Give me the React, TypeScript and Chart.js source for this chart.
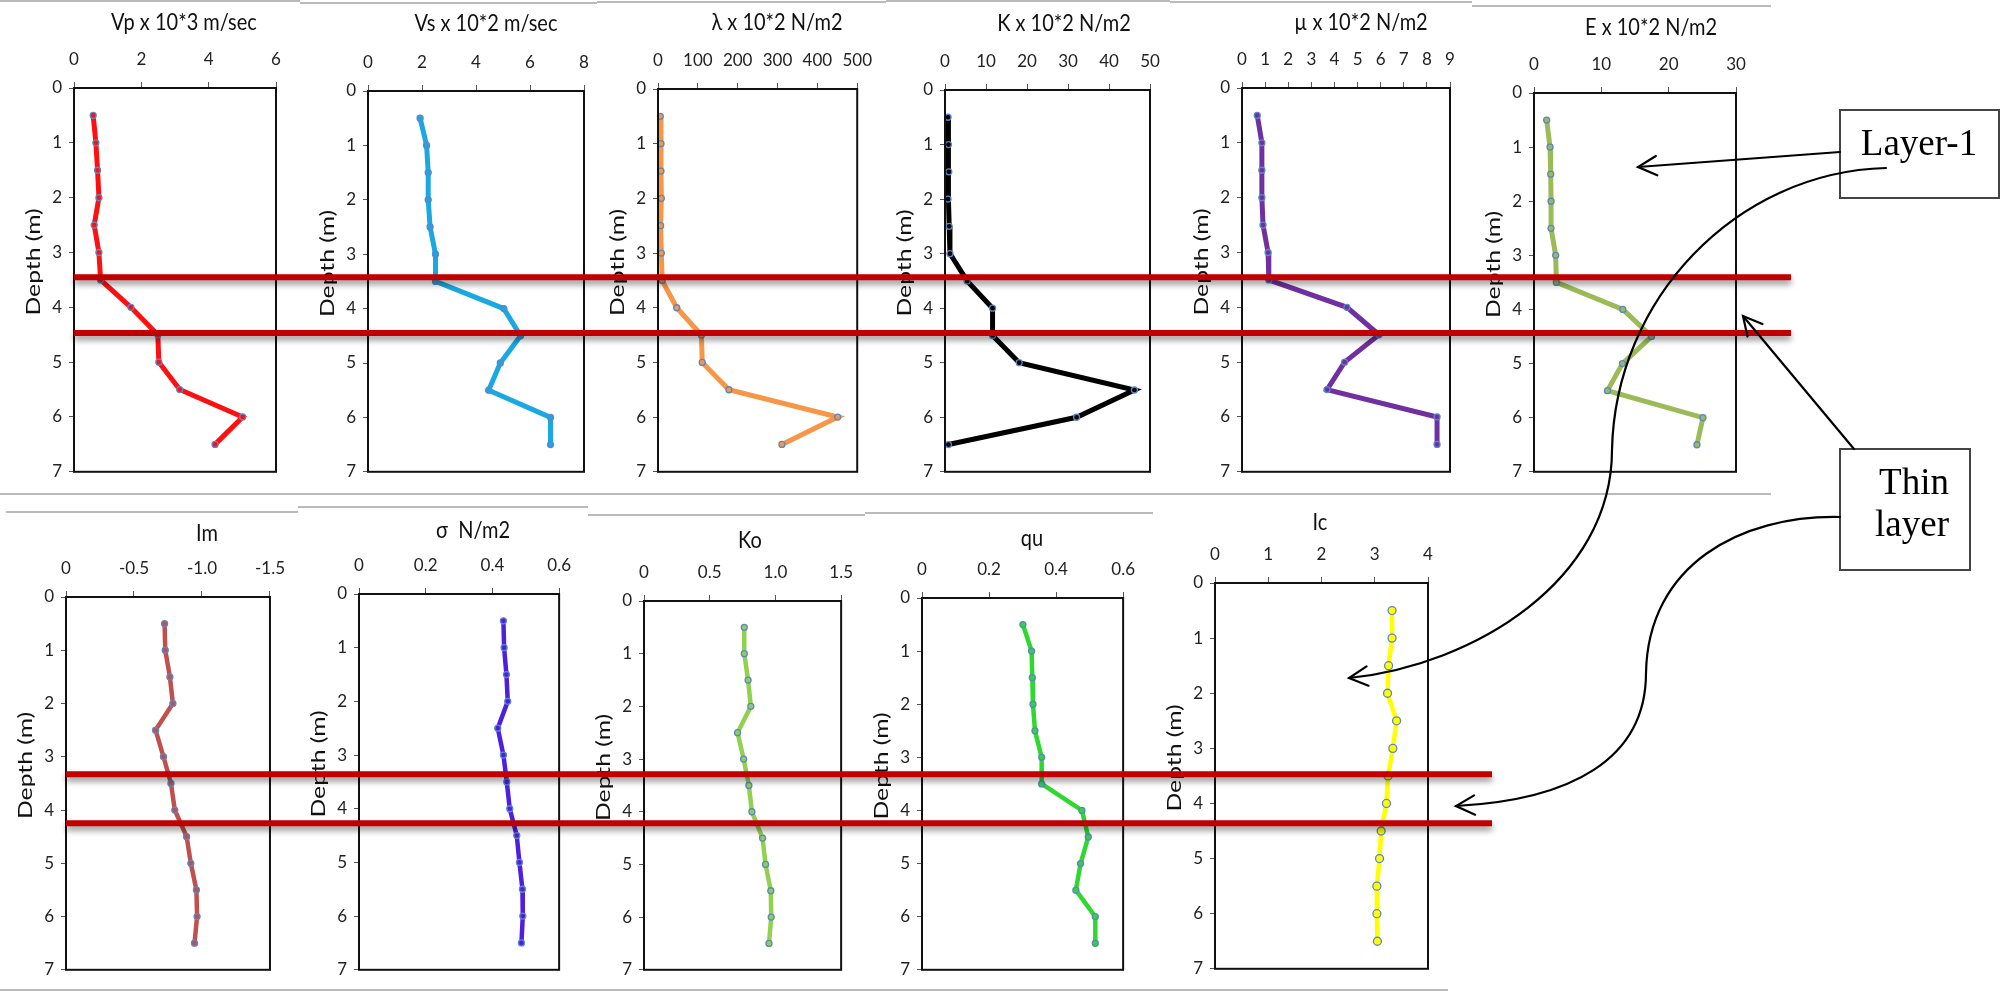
import React, { useEffect, useRef } from "react";
import { Chart, registerables } from "chart.js";
Chart.register(...registerables);

// ---------- data ----------
const depth = [0.5, 1, 1.5, 2, 2.5, 3, 3.5, 4, 4.5, 5, 5.5, 6, 6.5];
const vp = [0.57, 0.65, 0.7, 0.74, 0.6, 0.74, 0.79, 1.69, 2.49, 2.52, 3.14, 5.01, 4.19];
const vs = [1.93, 2.17, 2.23, 2.23, 2.3, 2.5, 2.5, 5.03, 5.65, 4.9, 4.47, 6.76, 6.76];
const lambda = [5.6, 7.5, 7.5, 8.4, 6.6, 8.4, 10.3, 47, 109, 111, 178, 451, 311];
const kBulk = [0.74, 0.84, 0.93, 0.74, 1.02, 1.21, 5.4, 11.6, 11.6, 18.1, 46.2, 32.1, 0.84];
const mu = [0.66, 0.86, 0.86, 0.86, 0.91, 1.13, 1.16, 4.54, 5.93, 4.44, 3.68, 8.44, 8.44];
const eMod = [1.88, 2.38, 2.48, 2.53, 2.53, 3.22, 3.32, 13.19, 17.45, 13.14, 10.91, 25.09, 24.2];
const im = [-0.725, -0.73, -0.764, -0.786, -0.659, -0.717, -0.772, -0.8, -0.887, -0.918, -0.959, -0.964, -0.945];
const sigma = [0.433, 0.435, 0.442, 0.446, 0.416, 0.433, 0.443, 0.452, 0.473, 0.481, 0.49, 0.491, 0.487];
const ko = [0.763, 0.763, 0.792, 0.813, 0.712, 0.758, 0.798, 0.821, 0.902, 0.925, 0.965, 0.968, 0.951];
const qu = [0.301, 0.327, 0.329, 0.331, 0.337, 0.357, 0.357, 0.477, 0.496, 0.473, 0.459, 0.517, 0.517];
const ic = [3.325, 3.325, 3.26, 3.24, 3.41, 3.34, 3.25, 3.22, 3.12, 3.09, 3.04, 3.04, 3.05];

const titles = ["Vp x 10*3 m/sec", "Vs x 10*2 m/sec", "\u03bb x 10*2 N/m2", "K x 10*2 N/m2", "\u00b5 x 10*2 N/m2", "E x 10*2 N/m2", "Im", "\u03c3  N/m2", "Ko", "qu", "Ic"];
const axisMin = [0, 0, 0, 0, 0, 0, -1.5, 0, 0, 0, 0];
const axisMax = [6, 8, 500, 50, 9, 30, 0, 0.6, 1.5, 0.6, 4];
const axisStep = [2, 2, 100, 10, 1, 10, 0.5, 0.2, 0.5, 0.2, 1];
const depthTicks = [0, 7, 1];
const depthLabel = "Depth (m)";

const topBoundaries = [3.45, 4.47];
const bottomBoundaries = [3.33, 4.25];
const layerLabel = "Layer-1";
const thinLabel = ["Thin", "layer"];

// ---------- styles / layout ----------
const series = [vp, vs, lambda, kBulk, mu, eMod, im, sigma, ko, qu, ic];
const colors = ["#ff1010", "#18a8e2", "#f79646", "#000000", "#7030a0", "#9bbb59", "#c0504d", "#4f1fe0", "#92d050", "#2ed82e", "#ffff00"];
const boxes = [
  { L: 74, T: 88, R: 276, B: 473, tx: 184, ty: 22 },
  { L: 368, T: 91, R: 584, B: 473, tx: 486, ty: 23 },
  { L: 658, T: 89, R: 862, B: 473, tx: 777, ty: 22 },
  { L: 945, T: 90, R: 1150, B: 473, tx: 1064, ty: 23 },
  { L: 1242, T: 88, R: 1450, B: 473, tx: 1361, ty: 22 },
  { L: 1534, T: 93, R: 1736, B: 473, tx: 1651, ty: 27 },
  { L: 66, T: 597, R: 275, B: 971, tx: 207, ty: 533 },
  { L: 359, T: 594, R: 561, B: 971, tx: 473, ty: 530 },
  { L: 644, T: 601, R: 843, B: 971, tx: 750, ty: 540 },
  { L: 922, T: 598, R: 1125, B: 971, tx: 1032, ty: 538 },
  { L: 1215, T: 583, R: 1428, B: 970, tx: 1320, ty: 522 },
];
const FONT = "Lato, 'Open Sans', sans-serif";
const AXW = 52;
const PADR = 22;
const PADB = 16;

function geom(i: number) {
  const b = boxes[i];
  const left = b.L - AXW;
  const top = b.ty - 18;
  const width = AXW + (b.R - b.L) + PADR;
  const height = b.B - top + PADB;
  return { left, top, width, height };
}

function arrowHead(ctx: CanvasRenderingContext2D, tx: number, ty: number, fx: number, fy: number, len = 21, ang = 0.48) {
  const a = Math.atan2(ty - fy, tx - fx);
  ctx.beginPath();
  ctx.moveTo(tx - len * Math.cos(a - ang), ty - len * Math.sin(a - ang));
  ctx.lineTo(tx, ty);
  ctx.lineTo(tx - len * Math.cos(a + ang), ty - len * Math.sin(a + ang));
  ctx.stroke();
}

export default function App() {
  const refs = useRef<(HTMLCanvasElement | null)[]>([]);
  const overlayRef = useRef<HTMLCanvasElement | null>(null);

  useEffect(() => {
    const charts: Chart[] = [];
    series.forEach((vals, i) => {
      const c = refs.current[i];
      if (!c) return;
      const g = geom(i);
      const b = boxes[i];
      const bottomRow = i >= 6;
      const panelPlugin = {
        id: "panel" + i,
        afterDraw(chart: any) {
          const ctx = chart.ctx as CanvasRenderingContext2D;
          const a = chart.chartArea;
          ctx.save();
          ctx.strokeStyle = "#111";
          ctx.lineWidth = 2;
          ctx.strokeRect(a.left, a.top, a.right - a.left, a.bottom - a.top);
          ctx.fillStyle = "#111";
          ctx.textAlign = "center";
          ctx.textBaseline = "middle";
          // panel title (slightly tall, like the stretched original)
          ctx.save();
          ctx.translate(b.tx - g.left, b.ty - g.top);
          ctx.scale(1, 1.2);
          ctx.font = `20px ${FONT}`;
          ctx.fillText(titles[i], 0, 0);
          ctx.restore();
          // depth label
          ctx.save();
          ctx.translate(b.L - 40 - g.left, (a.top + a.bottom) / 2 - 18);
          ctx.rotate(-Math.PI / 2);
          ctx.scale(1.3, 1);
          ctx.font = `19px ${FONT}`;
          ctx.fillText(depthLabel, 0, 0);
          ctx.restore();
          ctx.restore();
        },
      };
      const ch = new Chart(c, {
        type: "line",
        data: {
          datasets: [
            {
              data: depth.map((d, k) => ({ x: vals[k], y: d })),
              borderColor: colors[i],
              backgroundColor: colors[i],
              borderWidth: bottomRow ? 4.5 : 5,
              pointRadius: i === 10 ? 4 : 3,
              pointBackgroundColor: colors[i],
              pointBorderColor: "#5b86c8",
              pointBorderWidth: 1.3,
              tension: 0,
              fill: false,
            },
          ],
        },
        options: {
          responsive: false,
          animation: false,
          devicePixelRatio: 1,
          layout: { padding: { top: 0, left: 0, right: PADR, bottom: PADB } },
          plugins: { legend: { display: false }, tooltip: { enabled: false }, title: { display: false } },
          scales: {
            x: {
              type: "linear",
              position: "top",
              min: axisMin[i],
              max: axisMax[i],
              reverse: i === 6,
              ticks: { stepSize: axisStep[i], color: "#222", font: { family: FONT, size: 17 }, padding: 12 },
              grid: { drawOnChartArea: false, drawTicks: true, tickLength: 6, color: "#555" },
              border: { display: true, color: "#111", width: 2 },
              afterFit: (s: any) => {
                s.height = b.T - g.top;
              },
            },
            y: {
              type: "linear",
              position: "left",
              min: depthTicks[0],
              max: depthTicks[1],
              reverse: true,
              ticks: { stepSize: depthTicks[2], color: "#222", font: { family: FONT, size: 17 }, padding: 7 },
              grid: { drawOnChartArea: false, drawTicks: true, tickLength: 5, color: "#555" },
              border: { display: true, color: "#111", width: 2 },
              afterFit: (s: any) => {
                s.width = AXW;
              },
            },
          },
        },
        plugins: [panelPlugin],
      } as any);
      charts.push(ch);
    });

    // overlay
    const ov = overlayRef.current;
    if (ov && charts.length === 11) {
      const ctx = ov.getContext("2d")!;
      ctx.clearRect(0, 0, 2000, 993);
      // grey separators
      ctx.strokeStyle = "#a3a3a3";
      ctx.lineWidth = 1.5;
      const segs = [
        [0, 300, 1], [300, 597, 3], [597, 886, 2], [886, 1170, 1], [1170, 1472, 2], [1472, 1771, 6],
        [0, 1771, 494],
        [6, 298, 512], [298, 588, 507], [588, 865, 515], [865, 1153, 513],
        [0, 1448, 990],
      ];
      segs.forEach(([x1, x2, y]) => {
        ctx.beginPath();
        ctx.moveTo(x1, y);
        ctx.lineTo(x2, y);
        ctx.stroke();
      });

      // red boundary lines
      const g0 = geom(0);
      const g6 = geom(6);
      const topYs = topBoundaries.map((d) => charts[0].scales.y.getPixelForValue(d) + g0.top);
      const botYs = bottomBoundaries.map((d) => charts[6].scales.y.getPixelForValue(d) + g6.top);
      const topX0 = charts[0].chartArea.left + g0.left;
      const botX0 = charts[6].chartArea.left + g6.left;
      ctx.save();
      ctx.shadowColor = "rgba(0,0,0,0.45)";
      ctx.shadowBlur = 6;
      ctx.shadowOffsetY = 4;
      ctx.strokeStyle = "#c00000";
      ctx.lineWidth = 6;
      topYs.forEach((y) => {
        ctx.beginPath();
        ctx.moveTo(topX0, y);
        ctx.lineTo(1791, y);
        ctx.stroke();
      });
      botYs.forEach((y) => {
        ctx.beginPath();
        ctx.moveTo(botX0, y);
        ctx.lineTo(1492, y);
        ctx.stroke();
      });
      ctx.restore();

      // text boxes
      ctx.fillStyle = "#fff";
      ctx.strokeStyle = "#444";
      ctx.lineWidth = 2;
      ctx.fillRect(1840, 110, 159, 88);
      ctx.strokeRect(1840, 110, 159, 88);
      ctx.fillRect(1840, 449, 130, 121);
      ctx.strokeRect(1840, 449, 130, 121);
      ctx.fillStyle = "#000";
      ctx.font = "37px 'Liberation Serif', 'Times New Roman', serif";
      ctx.textAlign = "center";
      ctx.textBaseline = "alphabetic";
      ctx.fillText(layerLabel, 1919, 155);
      ctx.fillText(thinLabel[0], 1914, 494);
      ctx.fillText(thinLabel[1], 1912, 536);

      // arrows
      ctx.strokeStyle = "#000";
      ctx.lineWidth = 2.2;
      ctx.lineCap = "round";
      ctx.beginPath();
      ctx.moveTo(1840, 152);
      ctx.lineTo(1638, 167);
      ctx.stroke();
      arrowHead(ctx, 1638, 167, 1840, 152);
      ctx.beginPath();
      ctx.moveTo(1886, 168);
      ctx.bezierCurveTo(1735, 172, 1615, 300, 1612, 450);
      ctx.bezierCurveTo(1612, 580, 1475, 665, 1349, 678);
      ctx.stroke();
      arrowHead(ctx, 1349, 678, 1475, 665);
      ctx.beginPath();
      ctx.moveTo(1854, 449);
      ctx.lineTo(1743, 316);
      ctx.stroke();
      arrowHead(ctx, 1743, 316, 1854, 449);
      ctx.beginPath();
      ctx.moveTo(1840, 517);
      ctx.bezierCurveTo(1740, 515, 1648, 565, 1646, 673);
      ctx.bezierCurveTo(1646, 760, 1570, 800, 1456, 806);
      ctx.stroke();
      arrowHead(ctx, 1456, 806, 1570, 800);
    }

    return () => {
      charts.forEach((c) => c.destroy());
    };
  }, []);

  return (
    <div style={{ position: "fixed", left: 0, top: 0, width: 2000, height: 993, background: "#fff", overflow: "hidden" }}>
      {series.map((_, i) => {
        const g = geom(i);
        return (
          <canvas
            key={i}
            ref={(el) => {
              refs.current[i] = el;
            }}
            width={g.width}
            height={g.height}
            style={{ position: "absolute", left: g.left, top: g.top, width: g.width, height: g.height }}
          />
        );
      })}
      <canvas
        ref={overlayRef}
        width={2000}
        height={993}
        style={{ position: "absolute", left: 0, top: 0, width: 2000, height: 993, pointerEvents: "none", zIndex: 2 }}
      />
    </div>
  );
}
